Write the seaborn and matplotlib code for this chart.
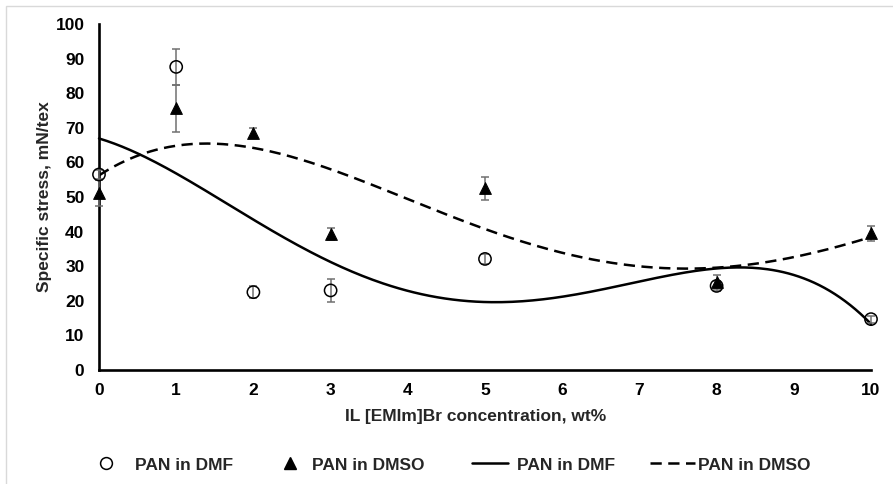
import numpy as np
import pandas as pd
import matplotlib
matplotlib.use("Agg")
import matplotlib.pyplot as plt
from matplotlib.lines import Line2D
from matplotlib.patches import Rectangle
import seaborn as sns

# IL concentration (wt%) and measured specific stress (mN/tex)
concentration = [0, 1, 2, 3, 5, 8, 10]
dmf_stress = [56.5, 87.6, 22.5, 23.0, 32.1, 24.3, 14.7]
dmf_err = [1.2, 5.2, 1.8, 3.3, 1.5, 1.5, 1.0]
dmso_stress = [51.2, 75.6, 68.4, 39.3, 52.5, 25.5, 39.5]
dmso_err = [3.7, 6.8, 1.4, 1.8, 3.4, 2.0, 2.2]

x_ticks = list(range(0, 11))
y_ticks = list(range(0, 101, 10))
legend_labels = ["PAN in DMF", "PAN in DMSO", "PAN in DMF", "PAN in DMSO"]

sns.set_theme(style="white")
plt.rcParams["font.family"] = ["Liberation Sans", "DejaVu Sans"]
plt.rcParams["font.weight"] = "bold"

W, H = 893, 484
fig = plt.figure(figsize=(W / 100, H / 100), dpi=100)
ax = fig.add_axes([99 / W, 114 / H, 772 / W, 346 / H])

DASH = (0, (4.5, 2.6))

# 4th-order polynomial trend lines fitted to each series
xs = np.linspace(0, 10, 300)
fit_dmf = np.polyval(np.polyfit(concentration, dmf_stress, 4), xs)
fit_dmso = np.polyval(np.polyfit(concentration, dmso_stress, 4), xs)
trend = pd.DataFrame({"x": xs, "dmf": fit_dmf, "dmso": fit_dmso})
sns.lineplot(data=trend, x="x", y="dmf", ax=ax, color="black", lw=1.8)
sns.lineplot(data=trend, x="x", y="dmso", ax=ax, color="black", lw=1.8,
             linestyle=DASH)

# error bars
for vals, errs in ((dmf_stress, dmf_err), (dmso_stress, dmso_err)):
    ax.errorbar(concentration, vals, yerr=errs, fmt="none",
                ecolor="#707070", elinewidth=1.1, capsize=3, capthick=1.1,
                zorder=3, clip_on=False)

pts = pd.DataFrame({"c": concentration, "dmf": dmf_stress, "dmso": dmso_stress})
sns.scatterplot(data=pts, x="c", y="dmf", ax=ax, marker="o", s=78,
                facecolor="none", edgecolor="black", linewidth=1.1, zorder=4)
sns.scatterplot(data=pts, x="c", y="dmso", ax=ax, marker="^", s=72,
                color="black", edgecolor="black", zorder=4)

ax.set_xlim(0, 10)
ax.set_ylim(0, 100)
ax.set_xticks(x_ticks)
ax.set_yticks(y_ticks)
ax.tick_params(axis="both", direction="inout", length=11, width=1.8,
               labelsize=12.5, colors="black")
ax.tick_params(axis="y", pad=5)
ax.tick_params(axis="x", pad=4)
for lab in ax.get_xticklabels() + ax.get_yticklabels():
    lab.set_fontweight("bold")
for side in ("top", "right"):
    ax.spines[side].set_visible(False)
for side in ("left", "bottom"):
    ax.spines[side].set_color("black")
    ax.spines[side].set_linewidth(1.9)
for coll in ax.collections:
    coll.set_clip_on(False)
for ln in ax.lines:
    ln.set_clip_on(False)

ax.set_xlabel("IL [EMIm]Br concentration, wt%", fontsize=12.5,
              fontweight="bold")
ax.xaxis.set_label_coords((476 - 99) / 772, -(417 - 370) / 346)
ax.xaxis.label.set_va("center")
ax.set_ylabel("Specific stress, mN/tex", fontsize=12.5, fontweight="bold")
ax.yaxis.set_label_coords((45 - 99) / 772, 0.5)
ax.yaxis.label.set_va("center")

# legend entries placed along the bottom edge
handles = [
    Line2D([], [], marker="o", ls="none", mfc="none", mec="black", ms=8.5,
           mew=1.1),
    Line2D([], [], marker="^", ls="none", color="black", ms=8.5),
    Line2D([], [], color="black", lw=1.8),
    Line2D([], [], color="black", lw=1.8, ls=DASH),
]
em = 12.5 * 100 / 72
starts = [92, 276, 472, 650]
lengths = [28, 28, 36, 45]
text_x = [135, 312, 517, 698]
for h, lab, x0, ln, tx in zip(handles, legend_labels, starts, lengths, text_x):
    fig.legend([h], [lab], loc="center left",
               bbox_to_anchor=(x0 / W, 1 - 465 / H), frameon=False,
               borderpad=0, borderaxespad=0, handlelength=ln / em,
               handletextpad=(tx - x0 - ln) / em,
               prop={"weight": "bold", "size": 12.5})

fig.patches.append(Rectangle((6 / W, -0.01), 1.0, 1 - 6 / H + 0.01,
                             transform=fig.transFigure, fill=False,
                             edgecolor="#d9d9d9", lw=1))

fig.savefig("out.png", dpi=100)
